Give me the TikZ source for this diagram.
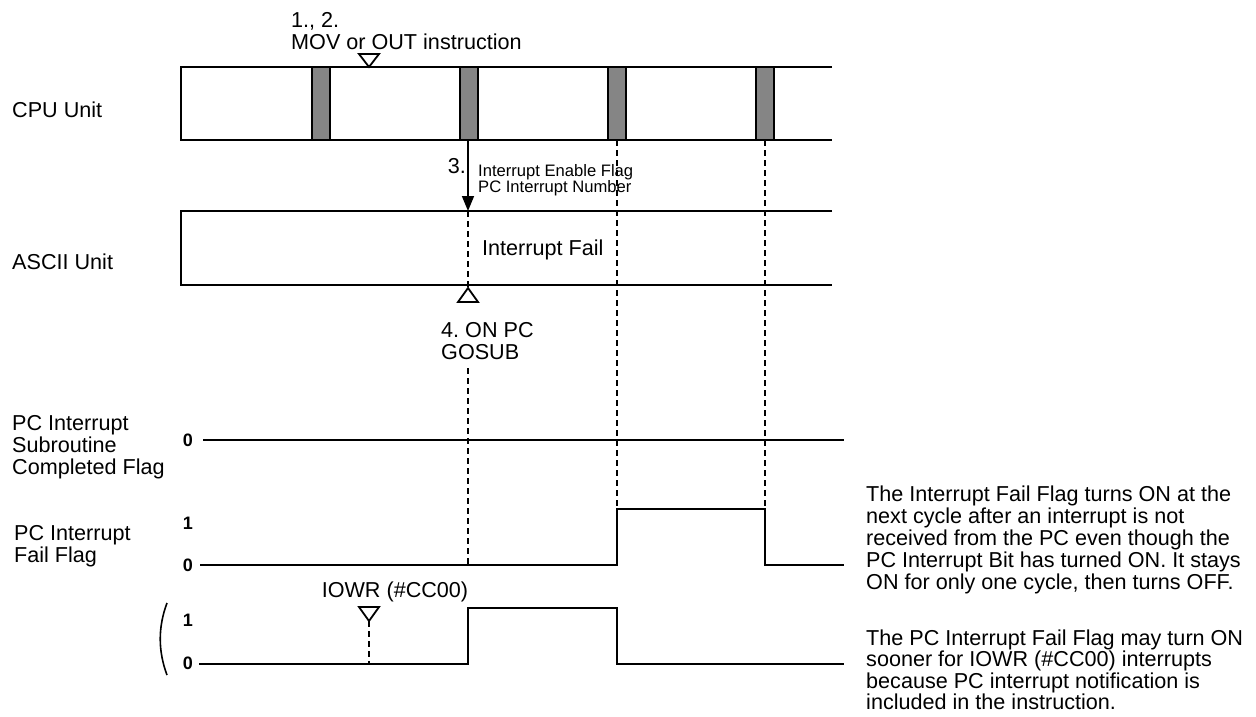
\documentclass[tikz,border=0pt]{standalone}
\usepackage{fontspec}
\setmainfont{Liberation Sans}
\frenchspacing
\usetikzlibrary{positioning}
\usetikzlibrary{arrows.meta}

\begin{document}
\begin{tikzpicture}[
    x=1pt, y=-1pt,
    %% ── Line styles ─────────────────────────────────────────────
    unitline/.style={line width=2.4pt, line join=miter},
    cyclebar/.style={draw=black, line width=2pt, fill=black!48},
    wave/.style    ={line width=2.6pt, line join=miter},
    guide/.style   ={line width=1.8pt, dash pattern=on 5.5pt off 4.5pt},
    tri/.style     ={line width=1.8pt, line join=miter, fill=white},
    arr/.style     ={-{Triangle[length=15pt,width=12pt]}, line width=1.6pt},
    %% ── Text styles ─────────────────────────────────────────────
    lbl/.style     ={inner sep=0pt, anchor=west, align=left,
                     font=\fontsize{21.6}{22}\selectfont},
    smalltxt/.style={inner sep=0pt, anchor=west, align=left,
                     font=\fontsize{16.6}{15.5}\selectfont},
    lvl/.style     ={inner sep=0pt, font=\fontsize{18}{18}\selectfont\bfseries}
]
    \useasboundingbox (0,0) rectangle (1256,717);

    %% ── Row labels ──────────────────────────────────────────────
    \node[lbl] (cpulbl)   at (12,110) {CPU Unit};
    \node[lbl] (asciilbl) at (12,262) {ASCII Unit};
    \node[lbl] (subrlbl)  at (12,447) {PC Interrupt\\Subroutine\\Completed Flag};
    \node[lbl] (faillbl)  at (14,546) {PC Interrupt\\Fail Flag};

    %% ── CPU Unit and ASCII Unit bands ───────────────────────────
    \draw[unitline] (832,67) -- (181,67) -- (181,140) -- (832,140);
    \foreach \bx in {312,460,608,756}
        \draw[cyclebar] (\bx,67) rectangle ++(18,73);
    \draw[unitline] (832,211) -- (181,211) -- (181,285) -- (832,285);

    \coordinate (cpu3)  at (468,140);
    \coordinate (asc3)  at (468,211);
    \coordinate (cpu4)  at (617,140);
    \coordinate (cpu5)  at (765,140);

    %% ── Event marks ─────────────────────────────────────────────
    \draw[tri] (359,54) -- (379,54) -- (369,67) -- cycle;
    \node[lbl] (movlbl) at (291,31) {1., 2.\\MOV or OUT instruction};

    \draw[arr] (cpu3) -- (asc3);
    \node[lbl, anchor=east] (step3) at (466,166) {3.};
    \node[smalltxt] (flaglbl) at (478,180) {Interrupt Enable Flag\\PC Interrupt Number};
    \node[lbl] (faillvl) at (482,250) {Interrupt Fail};

    \coordinate (gosubtip) at (468,288);
    \draw[tri] (gosubtip) -- (478,302) -- (458,302) -- cycle;
    \node[lbl] (gosub) at (441,341) {4. ON PC\\GOSUB};

    %% ── Signal levels ───────────────────────────────────────────
    \node[lvl] (s0) at (188,440) {0};
    \node[lvl] (f1) at (188,523) {1};
    \node[lvl] (f0) at (188,565) {0};
    \node[lvl] (i1) at (188,620) {1};
    \node[lvl] (i0) at (188,663) {0};

    \coordinate (failup)  at (617,509);
    \coordinate (faildn)  at (765,509);
    \coordinate (faillow) at (468,565);

    \draw[wave] (203,440) -- (844,440);
    \draw[wave] (200,565) -- (617,565) -- (failup) -- (faildn) -- (765,565) -- (844,565);
    \draw[wave] (199,664) -- (468,664) -- (468,608) -- (617,608) -- (617,664) -- (844,664);

    %% ── Dashed guides ───────────────────────────────────────────
    \draw[guide] (asc3) -- (gosubtip);
    \coordinate (gosubend) at (468,368);
    \draw[guide] (gosubend) -- (faillow);
    \draw[guide] (cpu4) -- (failup);
    \draw[guide] (cpu5) -- (faildn);

    %% ── IOWR mark ───────────────────────────────────────────────
    \coordinate (iowrtip) at (369,621);
    \coordinate (iowrlow) at (369,664);
    \draw[tri] (359,607) -- (379,607) -- (iowrtip) -- cycle;
    \draw[guide] (iowrtip) -- (iowrlow);
    \node[lbl, anchor=center] (iowr) at (395,592) {IOWR (\#CC00)};
    \draw[line width=1.6pt] (167,603) .. controls (158,627) and (158,651) .. (167,675);

    %% ── Notes ───────────────────────────────────────────────────
    \node[lbl] (note1) at (866,540) {The Interrupt Fail Flag turns ON at the\\
        next cycle after an interrupt is not\\
        received from the PC even though the\\
        PC Interrupt Bit has turned ON. It stays\\
        ON for only one cycle, then turns OFF.};
    \node[lbl, font=\fontsize{21.6}{21.5}\selectfont] (note2) at (866,670)
        {The PC Interrupt Fail Flag may turn ON\\
        sooner for IOWR (\#CC00) interrupts\\
        because PC interrupt notification is\\
        included in the instruction.};

\end{tikzpicture}
\end{document}
